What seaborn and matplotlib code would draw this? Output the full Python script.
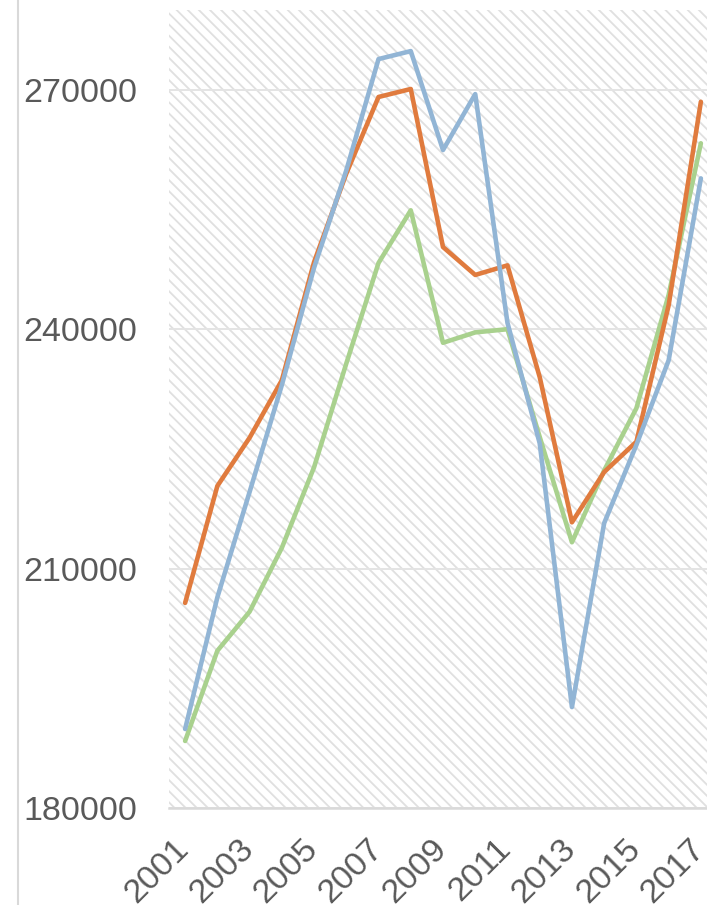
import matplotlib
matplotlib.use('Agg')
import matplotlib.pyplot as plt
import matplotlib.transforms as mtransforms
import seaborn as sns
import pandas as pd
from matplotlib.patches import Rectangle
from matplotlib.lines import Line2D

# values
years = list(range(2001, 2018))
series_blue = [189900, 206400, 219600, 233000, 247700, 259900, 273850, 274850, 262450,
               269460, 240800, 225700, 192650, 215700, 225500, 236100, 258900]
series_orange = [205700, 220350, 226400, 233600, 248400, 259500, 269100, 270100, 250300,
                 246800, 248000, 234000, 215800, 222100, 225900, 243000, 268500]
series_green = [188400, 199700, 204600, 212600, 222700, 235700, 248300, 254900, 238300,
                239600, 240000, 226500, 213300, 222300, 230100, 244300, 263300]
y_ticks = [180000, 210000, 240000, 270000]
x_ticks = years[::2]

df = pd.DataFrame({
    'year': years * 3,
    'value': series_green + series_orange + series_blue,
    'series': ['C'] * 17 + ['B'] * 17 + ['A'] * 17,
})

sns.set_theme(style='white')
plt.rcParams['font.family'] = ['Liberation Sans', 'DejaVu Sans']
plt.rcParams['hatch.linewidth'] = 1.3

fig = plt.figure(figsize=(7.07, 9.05), dpi=100)
ax = fig.add_axes([169 / 707, 1 - 808 / 905, 1 - 169 / 707, (808 - 10) / 905])

# striped plot area background
bg = Rectangle((0, 0), 1, 1, transform=ax.transAxes, facecolor='white',
               edgecolor='#e0e0e0', hatch='\\\\\\', linewidth=0, zorder=0)
ax.add_patch(bg)

palette = {'C': '#a9d18e', 'B': '#e07b3e', 'A': '#92b5d5'}
sns.lineplot(data=df, x='year', y='value', hue='series', palette=palette,
             hue_order=['C', 'B', 'A'], linewidth=3.3, legend=False, ax=ax,
             solid_joinstyle='round', solid_capstyle='round')

ax.set_xlim(2000.5, 2017.19)
ax.set_ylim(180000, 280000)
ax.set_yticks(y_ticks)
ax.set_yticklabels([str(v) for v in y_ticks])
ax.set_xticks(x_ticks)
ax.set_xticklabels([str(v) for v in x_ticks], rotation=45, ha='right', va='baseline',
                   rotation_mode='anchor')
ax.set_xlabel('')
ax.set_ylabel('')

ax.set_axisbelow(True)
ax.yaxis.grid(True, color='#e4e4e4', linewidth=1.4)
ax.xaxis.grid(False)
for side in ['top', 'right', 'left']:
    ax.spines[side].set_visible(False)
ax.spines['bottom'].set_color('#d9d9d9')
ax.spines['bottom'].set_linewidth(1.8)
ax.spines['bottom'].set_zorder(3)

ax.tick_params(axis='both', length=0, labelsize=24.5, labelcolor='#595959')
ax.tick_params(axis='y', pad=23)
ax.tick_params(axis='x', pad=30.5)

# nudge the rotated year labels a little to the right
shift = mtransforms.ScaledTranslation(5 / 100, 0, fig.dpi_scale_trans)
for lab in ax.get_xticklabels():
    lab.set_transform(lab.get_transform() + shift)

# thin frame line on the left edge of the picture
fig.add_artist(Line2D([17.5 / 707, 17.5 / 707], [0, 1], color='#d9d9d9', linewidth=1.5))

fig.savefig('out.png', dpi=100)
